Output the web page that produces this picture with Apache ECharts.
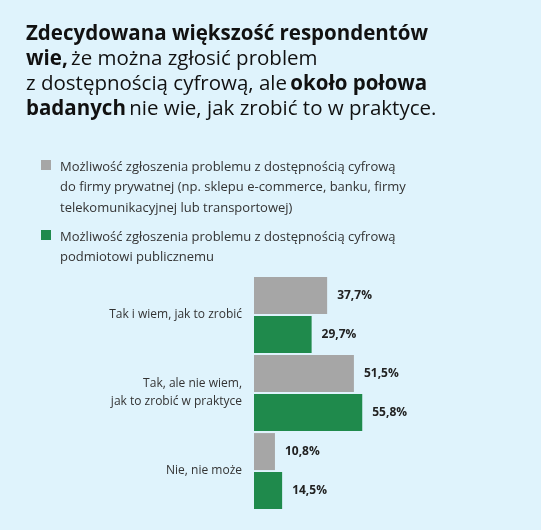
<!DOCTYPE html><html><head><meta charset="utf-8"><script src="https://cdn.jsdelivr.net/npm/echarts@6/dist/echarts.min.js"></script>
<style>html,body{margin:0;padding:0;background:#dff3fc}#c{width:541px;height:530px}</style></head><body><div id="c"></div><script>
const categories = ['Tak i wiem, jak to zrobić', 'Tak, ale nie wiem,\njak to zrobić w praktyce', 'Nie, nie może'];
const seriesNames = ['Możliwość zgłoszenia problemu z dostępnością cyfrową\ndo firmy prywatnej (np. sklepu e-commerce, banku, firmy\ntelekomunikacyjnej lub transportowej)', 'Możliwość zgłoszenia problemu z dostępnością cyfrową\npodmiotowi publicznemu'];
const privateValues = [37.7, 51.5, 10.8];
const publicValues = [29.7, 55.8, 14.5];
const colors = ['#a6a6a6', '#1f8a4c'];
const chart = echarts.init(document.getElementById('c'));
const F = '"Open Sans", "Noto Sans", sans-serif';
const lbl = {show:true, position:'right', distance:10, fontFamily:F, fontWeight:'bold', fontSize:12, color:'#222', formatter: p => p.value.toFixed(1).replace('.', ',') + '%'};
const legendTops = [157, 227];
const legendGraphics = [];
seriesNames.forEach((n, i) => {
  legendGraphics.push({type:'rect', left:41, top:legendTops[i] + 3, shape:{width:10, height:10}, style:{fill:colors[i]}});
  legendGraphics.push({type:'text', left:60, top:legendTops[i], style:{text:n, fontFamily:F, fontSize:13, fill:'#333', lineHeight:20.5}});
});
chart.setOption({
  backgroundColor:'#dff3fc',
  graphic:[{type:'text', left:26, top:22, style:{
    text:'{b|Zdecydowana większość respondentów}\n{b|wie,} {n|że można zgłosić problem}\n{n|z dostępnością cyfrową, ale} {b|około połowa}\n{b|badanych} {n|nie wie, jak zrobić to w praktyce.}',
    lineHeight:25, rich:{b:{fontFamily:F, fontSize:20.5, fontWeight:'bold', fill:'#111', lineHeight:25}, n:{fontFamily:F, fontSize:20.5, fill:'#111', lineHeight:25}}}}].concat(legendGraphics),
  legend:{show:false},
  grid:{left:254, top:276, height:234, width:194},
  xAxis:{type:'value', min:0, max:100, show:false},
  yAxis:{type:'category', data:categories, inverse:true, axisLine:{show:false}, axisTick:{show:false}, splitLine:{show:false},
    axisLabel:{fontFamily:F, fontSize:12, color:'#333', margin:12, lineHeight:18, align:'right'}},
  series:[
    {name:seriesNames[0], type:'bar', data:privateValues, itemStyle:{color:colors[0]}, barWidth:37, barGap:'5%', barCategoryGap:'0%', label:lbl},
    {name:seriesNames[1], type:'bar', data:publicValues, itemStyle:{color:colors[1]}, barWidth:37, label:lbl}
  ]
});
</script></body></html>
